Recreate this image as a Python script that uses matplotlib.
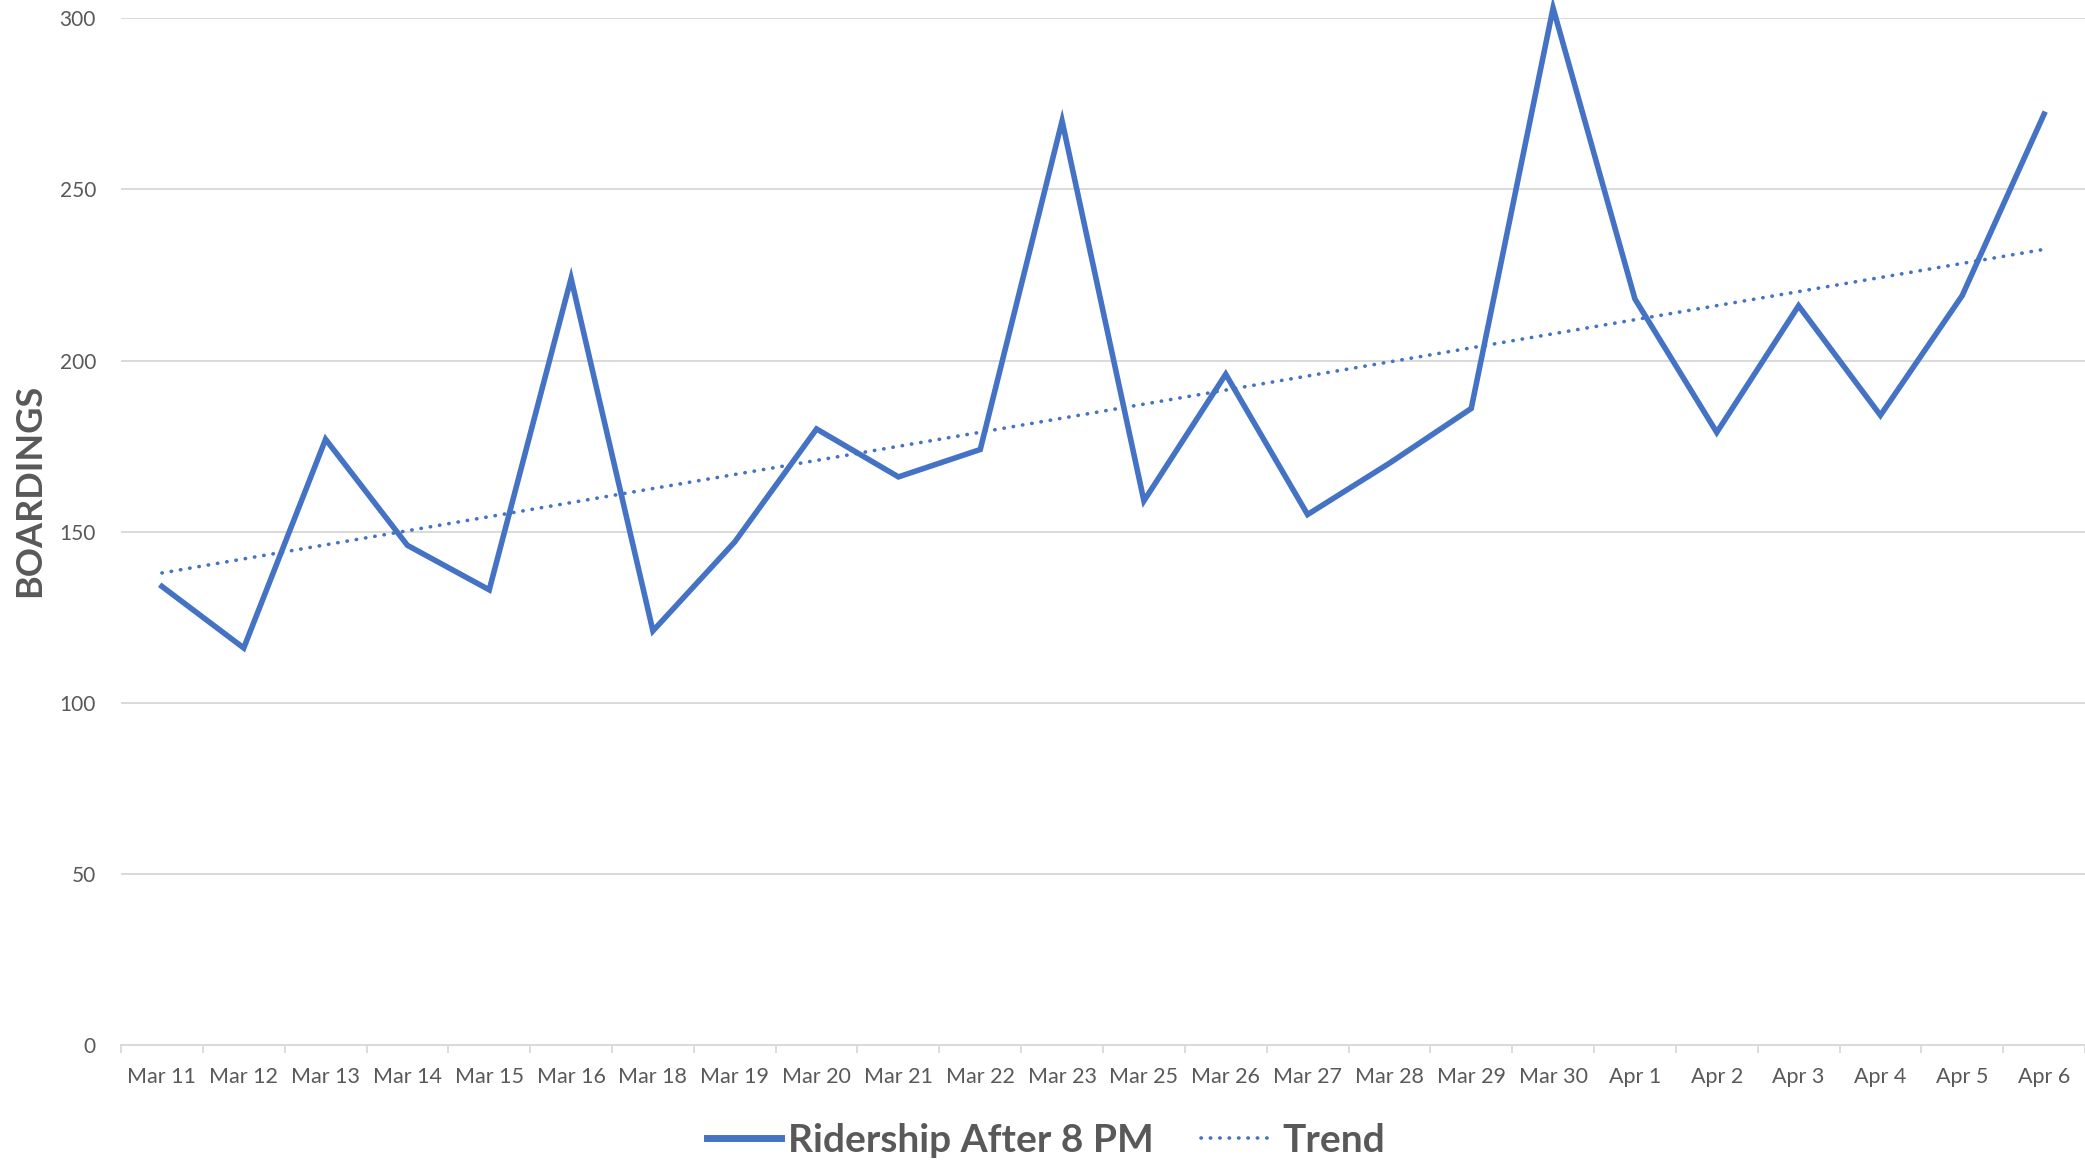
import numpy as np
import matplotlib
matplotlib.use("Agg")
import matplotlib.pyplot as plt
from matplotlib.lines import Line2D

plt.rcParams['font.family'] = ['Lato', 'DejaVu Sans']

dates = ["Mar 11", "Mar 12", "Mar 13", "Mar 14", "Mar 15", "Mar 16", "Mar 18", "Mar 19",
         "Mar 20", "Mar 21", "Mar 22", "Mar 23", "Mar 25", "Mar 26", "Mar 27", "Mar 28",
         "Mar 29", "Mar 30", "Apr 1", "Apr 2", "Apr 3", "Apr 4", "Apr 5", "Apr 6"]
boardings = [134, 116, 177, 146, 133, 224, 121, 147, 180, 166, 174, 270, 159, 196,
             155, 170, 186, 303, 218, 179, 216, 184, 219, 272]
y_ticks = [0, 50, 100, 150, 200, 250, 300]

BLUE = "#4472C4"
GRID = "#D9D9D9"
TXT = "#595959"

W, H = 2085, 1161
fig = plt.figure(figsize=(W / 100, H / 100), dpi=100)
ax = fig.add_axes([121 / W, 1 - 1045 / H, 1 - 121 / W, (1045 - 18.3) / H])

x = np.arange(len(dates))
y = np.array(boardings, dtype=float)
slope, intercept = np.polyfit(x, y, 1)
trend = slope * x + intercept

DOTS = (0, (0.1, 2.5))
ax.plot(x, y, color=BLUE, lw=4.0, solid_joinstyle='miter', clip_on=False, zorder=3)
ax.plot(x, trend, color=BLUE, lw=2.6, linestyle=DOTS, dash_capstyle='round', zorder=3)

ax.set_xlim(-0.5, len(dates) - 0.5)
ax.set_ylim(0, 300)
ax.set_yticks(y_ticks)
ax.set_yticklabels([str(v) for v in y_ticks])
ax.yaxis.grid(True, color=GRID, lw=1.4)
ax.set_axisbelow(True)

ax.set_xticks(x)
ax.set_xticklabels(dates)
ax.set_xticks(np.arange(-0.5, len(dates)), minor=True)
ax.tick_params(axis='x', which='major', length=0, pad=16, labelsize=15.5, labelcolor=TXT)
ax.tick_params(axis='x', which='minor', length=6, width=1.3, color=GRID)
ax.tick_params(axis='y', length=0, pad=18, labelsize=15, labelcolor=TXT)

for s in ['top', 'right', 'left']:
    ax.spines[s].set_visible(False)
ax.spines['bottom'].set_color(GRID)
ax.spines['bottom'].set_linewidth(1.4)

fig.text(30 / W, 1 - 490 / H, "BOARDINGS", rotation=90, ha='center', va='center',
         fontsize=26, fontweight='bold', color=TXT)

handles = [Line2D([], [], color=BLUE, lw=5),
           Line2D([], [], color=BLUE, lw=2.6, linestyle=DOTS, dash_capstyle='round')]
leg = fig.legend(handles, ["Ridership After 8 PM", "Trend"], loc='center',
                 bbox_to_anchor=(1046 / W, 1 - 1140 / H), ncol=2, frameon=False,
                 prop={'weight': 'bold', 'size': 28}, handlelength=1.9,
                 handletextpad=0.2, columnspacing=1.2, borderpad=0)
for t in leg.get_texts():
    t.set_color(TXT)

fig.savefig("out.png", dpi=100)
